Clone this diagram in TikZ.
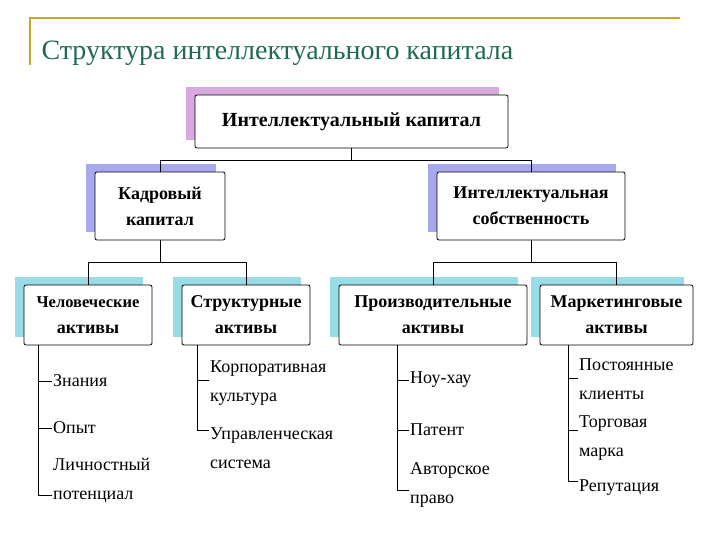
\documentclass[tikz,border=0pt]{standalone}
\usepackage{fontspec}
\setmainfont{Liberation Serif}
\definecolor{gold}{HTML}{C8A82A}
\definecolor{ttl}{HTML}{1F6B50}
\definecolor{shm}{HTML}{D8A8E0}
\definecolor{shb}{HTML}{A8A8EC}
\definecolor{shc}{HTML}{98DCE8}
\begin{document}
\begin{tikzpicture}[x=1pt,y=-1pt,
  bx/.style={draw=black,thick,fill=white,rounded corners=2pt,align=center,font=\bfseries\fontsize{18}{26}\selectfont,inner sep=0pt},
  it/.style={anchor=west,align=left,font=\fontsize{18}{29}\selectfont,inner sep=1pt},
  ln/.style={draw=black,line width=0.8pt}]
\useasboundingbox (0,0) rectangle (720,540);
\draw[gold,line width=1.5pt] (30,65) -- (30,18) -- (680,18);
\node[anchor=base west,text=ttl,font=\fontsize{28}{32}\selectfont] (title) at (38,60) {Структура интеллектуального капитала};
\newcommand{\mybox}[7]{%
  \fill[#6] (#2-9,#3-8) rectangle (#4-9,#5-8);
  \node[bx,minimum width=#4-#2,minimum height=#5-#3] (#1) at ({(#2+#4)/2},{(#3+#5)/2}) {#7};}
\mybox{ic}{195}{95}{508}{148}{shm}{\fontsize{20}{24}\selectfont Интеллектуальный капитал}
\mybox{kk}{95}{172}{225}{240}{shb}{Кадровый\\капитал}
\mybox{is}{437}{172}{625}{240}{shb}{Интеллектуальная\\собственность}
\mybox{ca}{24}{285}{152}{345}{shc}{\fontsize{16.5}{26}\selectfont Человеческие\\активы}
\mybox{sa}{182}{285}{310}{345}{shc}{Структурные\\активы}
\mybox{pa}{339}{285}{527}{345}{shc}{Производительные\\активы}
\mybox{ma}{540}{285}{693}{345}{shc}{Маркетинговые\\активы}
\draw[ln] (ic.south) -- ++(0,12) coordinate (j1);
\draw[ln,line width=1.3pt] (kk.north |- j1) -- (is.north |- j1);
\draw[ln] (kk.north |- j1) -- (kk.north);
\draw[ln] (is.north |- j1) -- (is.north);
\draw[ln] (kk.south) -- ++(0,22) coordinate (j2);
\draw[ln] (ca.north) |- (j2) -| (sa.north);
\draw[ln] (is.south) -- ++(0,22) coordinate (j3);
\draw[ln] (pa.north) |- (j3) -| (sa.north -| pa.north);
\draw[ln] (pa.north |- j3) -- (ma.north |- j3) -- (ma.north);
\node[it] (c1) at (52,381) {Знания};
\node[it] (c2) at (52,428) {Опыт};
\node[it] (c3) at (52,481) {Личностный\\потенциал};
\coordinate (cs) at (38,345);
\draw[ln] (cs) |- (c3.west |- 0,495);
\draw[ln] (cs |- c1.west) -- (c1.west);
\draw[ln] (cs |- c2.west) -- (c2.west);
\node[it] (s1) at (209,383) {Корпоративная\\культура};
\node[it] (s2) at (209,448) {Управленческая\\система};
\coordinate (ss) at (197,345);
\draw[ln] (ss) |- (s2.west |- 0,430);
\draw[ln] (ss |- 0,380) -- (s1.west |- 0,380);
\node[it] (p1) at (409,380) {Ноу-хау};
\node[it] (p2) at (409,430) {Патент};
\node[it] (p3) at (409,485) {Авторское\\право};
\coordinate (ps) at (397,345);
\draw[ln] (ps) |- (p3.west |- 0,490);
\draw[ln] (ps |- p1.west) -- (p1.west);
\draw[ln] (ps |- p2.west) -- (p2.west);
\node[it] (m1) at (578,379) {Постоянные\\клиенты};
\node[it] (m2) at (578,438) {Торговая\\марка};
\node[it] (m3) at (578,488) {Репутация};
\coordinate (ms) at (568,345);
\draw[ln] (ms) |- (m3.west |- 0,481);
\draw[ln] (ms |- 0,378) -- (m1.west |- 0,378);
\draw[ln] (ms |- 0,430) -- (m2.west |- 0,430);
\end{tikzpicture}
\end{document}
